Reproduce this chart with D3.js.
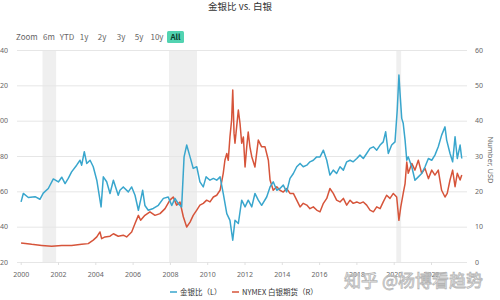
<!DOCTYPE html>
<html>
<head>
<meta charset="utf-8">
<script src="https://cdn.jsdelivr.net/npm/d3@7"></script>
<style>
  html, body { margin: 0; padding: 0; background: #fff; }
  svg { display: block; font-family: "Noto Sans CJK SC", "Noto Sans", sans-serif; }
</style>
</head>
<body>
<svg id="chart" width="500" height="300"></svg>
<script>
// gold / silver ratio (left axis)
const ratioDates = [2000.02, 2000.14, 2000.41, 2000.77, 2001.03, 2001.21, 2001.48, 2001.75, 2002.02, 2002.2, 2002.38, 2002.55, 2002.73, 2003.0, 2003.18, 2003.27, 2003.41, 2003.54, 2003.72, 2003.89, 2004.08, 2004.31, 2004.43, 2004.61, 2004.79, 2004.97, 2005.23, 2005.32, 2005.5, 2005.77, 2005.95, 2006.13, 2006.31, 2006.43, 2006.54, 2006.66, 2006.84, 2007.11, 2007.38, 2007.65, 2007.91, 2008.1, 2008.27, 2008.45, 2008.63, 2008.76, 2008.9, 2009.08, 2009.25, 2009.44, 2009.61, 2009.79, 2009.94, 2010.15, 2010.33, 2010.51, 2010.69, 2010.86, 2011.05, 2011.22, 2011.37, 2011.49, 2011.67, 2011.85, 2012.03, 2012.2, 2012.39, 2012.56, 2012.74, 2012.92, 2013.19, 2013.37, 2013.54, 2013.73, 2013.9, 2014.08, 2014.26, 2014.44, 2014.62, 2014.8, 2014.98, 2015.15, 2015.34, 2015.51, 2015.69, 2015.87, 2016.05, 2016.23, 2016.41, 2016.58, 2016.76, 2016.94, 2017.12, 2017.3, 2017.48, 2017.66, 2017.83, 2018.02, 2018.19, 2018.37, 2018.55, 2018.73, 2018.91, 2019.09, 2019.27, 2019.44, 2019.57, 2019.71, 2019.89, 2020.07, 2020.19, 2020.28, 2020.34, 2020.43, 2020.51, 2020.61, 2020.7, 2020.78, 2020.97, 2021.14, 2021.32, 2021.5, 2021.68, 2021.86, 2022.04, 2022.21, 2022.39, 2022.57, 2022.75, 2022.84, 2023.02, 2023.16, 2023.29, 2023.41, 2023.56, 2023.65];
const ratioValues = [54, 58.8, 56.5, 57, 55.5, 59, 61.6, 67, 65.3, 68, 64.4, 67.3, 71, 74.8, 77.6, 74.8, 82.4, 75.8, 77.6, 73.9, 66.3, 51.2, 68.2, 65.4, 58.8, 66.3, 57.8, 60.6, 62.5, 59.7, 62.5, 57.8, 49.3, 55, 60.6, 52, 49.3, 50.3, 52.1, 56, 56.8, 52, 56, 53, 51.2, 79.5, 86.2, 79.5, 73, 73.9, 65.4, 62.5, 68.2, 66.3, 67.3, 66.3, 68.2, 58.8, 47.4, 43.6, 32.3, 43.6, 41.8, 55, 51.2, 55, 51.2, 58.8, 55, 52.1, 56.8, 62.5, 65.4, 60.6, 61.6, 63.5, 59.7, 67.3, 70.1, 73.9, 75.8, 73.9, 74.8, 76.7, 77.6, 79.5, 79.5, 83.3, 77.6, 69.2, 72, 70.1, 73.9, 72, 76.7, 77.6, 76.7, 78.6, 80.5, 78.6, 81.4, 84.3, 85.2, 83.3, 86.2, 88, 93.7, 81.4, 86.2, 88, 106, 125.8, 115.5, 101.3, 98.5, 89, 77.6, 79.5, 73.9, 66.3, 68.2, 70.1, 73.9, 78.6, 77.6, 80.5, 85.2, 91.8, 96.5, 89, 81.4, 76.7, 90.9, 78.6, 86.2, 78.6];

// NYMEX silver futures, USD (right axis)
const silverDates = [2000.02, 2000.59, 2001.13, 2001.66, 2002.2, 2002.73, 2003.27, 2003.62, 2003.89, 2004.08, 2004.25, 2004.34, 2004.52, 2004.79, 2004.97, 2005.23, 2005.5, 2005.68, 2005.95, 2006.13, 2006.31, 2006.43, 2006.66, 2006.93, 2007.2, 2007.47, 2007.74, 2008.0, 2008.18, 2008.36, 2008.54, 2008.72, 2008.9, 2009.08, 2009.25, 2009.44, 2009.61, 2009.79, 2009.97, 2010.15, 2010.33, 2010.51, 2010.69, 2010.86, 2010.95, 2011.05, 2011.13, 2011.22, 2011.31, 2011.37, 2011.44, 2011.49, 2011.58, 2011.67, 2011.76, 2011.85, 2011.94, 2012.03, 2012.12, 2012.2, 2012.29, 2012.39, 2012.56, 2012.74, 2012.92, 2013.1, 2013.28, 2013.37, 2013.54, 2013.73, 2013.9, 2014.08, 2014.26, 2014.44, 2014.62, 2014.8, 2014.98, 2015.15, 2015.34, 2015.51, 2015.69, 2015.87, 2016.05, 2016.23, 2016.41, 2016.58, 2016.76, 2016.94, 2017.12, 2017.3, 2017.48, 2017.66, 2017.83, 2018.02, 2018.19, 2018.37, 2018.55, 2018.73, 2018.91, 2019.09, 2019.27, 2019.44, 2019.62, 2019.8, 2019.98, 2020.16, 2020.28, 2020.38, 2020.51, 2020.61, 2020.7, 2020.78, 2020.97, 2021.14, 2021.32, 2021.5, 2021.68, 2021.86, 2022.04, 2022.21, 2022.39, 2022.57, 2022.75, 2022.87, 2023.02, 2023.16, 2023.29, 2023.41, 2023.56, 2023.65];
const silverValues = [5.4, 5.0, 4.7, 4.45, 4.7, 4.7, 5.0, 5.2, 6.2, 7.1, 8.5, 6.6, 7.1, 7.3, 8.0, 7.3, 7.6, 7.1, 8.5, 10.9, 13.2, 11.8, 13.2, 14.2, 13.2, 13.7, 15.1, 17.5, 18.4, 16.1, 17.0, 12.8, 9.9, 11.3, 13.2, 14.7, 16.1, 16.6, 17.5, 17.0, 18.4, 18.9, 20.3, 25.1, 28.8, 30.7, 28.8, 35.4, 40.2, 48.7, 36.4, 33.6, 38.3, 43, 39.2, 33.6, 35.4, 26.9, 32.6, 36.8, 32.6, 29.8, 26.9, 34.5, 32.6, 32.6, 28.8, 23.2, 20.3, 21.3, 20.3, 19.8, 20.8, 19.4, 19.4, 17.5, 15.6, 16.6, 16.1, 15.1, 15.6, 14.7, 14.2, 16.6, 18, 20.8, 19.4, 17.5, 17.0, 18.0, 16.1, 17.5, 16.6, 17, 16.6, 17, 16.1, 14.7, 14.2, 15.6, 15.1, 17, 18.9, 18.0, 19.4, 18.4, 11.8, 15.6, 19.4, 22.2, 28.3, 25.1, 27.9, 26, 28.8, 25.1, 26.5, 23.6, 26, 24.6, 26, 20.3, 18.4, 19.4, 23.2, 26, 21.3, 25.1, 23.2, 24.6];

// US recessions (shaded)
const recessionStart = [2001.17, 2007.95, 2020.14];
const recessionEnd = [2001.9, 2009.45, 2020.4];

const leftTicks = [20, 40, 60, 80, 100, 120, 140];
const rightTicks = [0, 10, 20, 30, 40, 50, 60];
const yearTicks = d3.range(2000, 2023, 2);
const rangeButtons = ["6m", "YTD", "1y", "2y", "3y", "5y", "10y", "All"];
const seriesNames = ["金银比（L）", "NYMEX 白银期货（R）"];
const seriesColors = ["#39a6cd", "#d6543a"];

const svg = d3.select("#chart");
const plotLeft = 17, plotRight = 467, plotTop = 50, plotBottom = 262;

const x = d3.scaleLinear().domain([2000, 2024]).range([20.7, 468.3]);
const yLeft = d3.scaleLinear().domain([20, 140]).range([plotBottom, plotTop]);
const yRight = d3.scaleLinear().domain([0, 60]).range([plotBottom, plotTop]);

// title
svg.append("text")
  .attr("x", 240).attr("y", 10)
  .attr("text-anchor", "middle")
  .attr("font-size", 9.5)
  .attr("fill", "#333")
  .text("金银比 vs. 白银");

// range selector
svg.append("text")
  .attr("x", 16).attr("y", 40)
  .attr("font-size", 8).attr("fill", "#666")
  .text("Zoom");
const btnX = [49, 67, 84, 102, 121, 139, 157, 175.5];
const btns = svg.append("g").selectAll("g")
  .data(rangeButtons)
  .join("g")
  .attr("transform", (d, i) => `translate(${btnX[i]},0)`);
btns.filter(d => d === "All").append("rect")
  .attr("x", -8.5).attr("y", 31).attr("width", 17).attr("height", 12)
  .attr("rx", 1.5).attr("fill", "#52d3b1");
btns.append("text")
  .attr("y", 40)
  .attr("text-anchor", "middle")
  .attr("font-size", 8)
  .attr("font-weight", d => d === "All" ? "bold" : null)
  .attr("fill", d => d === "All" ? "#0b3d2c" : "#666")
  .text(d => d);

// recession bands
svg.append("g").selectAll("rect")
  .data(recessionStart)
  .join("rect")
  .attr("x", (d, i) => x(d))
  .attr("width", (d, i) => x(recessionEnd[i]) - x(d))
  .attr("y", plotTop)
  .attr("height", plotBottom - plotTop)
  .attr("fill", "#efefef");

// grid + left axis
const gridG = svg.append("g")
  .attr("transform", `translate(${plotLeft},0)`)
  .call(d3.axisLeft(yLeft).tickValues(leftTicks).tickSize(-(plotRight - plotLeft)).tickPadding(9));
gridG.select(".domain").remove();
gridG.selectAll(".tick line").attr("stroke", "#e6e6e6").attr("stroke-width", 1);
gridG.selectAll(".tick text").attr("fill", "#666").attr("font-size", 7)
  .attr("font-family", "'Noto Sans', sans-serif");

// right axis
const rightG = svg.append("g")
  .attr("transform", `translate(${plotRight},0)`)
  .call(d3.axisRight(yRight).tickValues(rightTicks).tickSize(0).tickPadding(8));
rightG.select(".domain").remove();
rightG.selectAll(".tick text").attr("fill", "#666").attr("font-size", 7)
  .attr("font-family", "'Noto Sans', sans-serif");

svg.append("text")
  .attr("transform", "translate(488,160) rotate(90)")
  .attr("text-anchor", "middle")
  .attr("font-size", 7.5)
  .attr("fill", "#666")
  .attr("font-family", "'Noto Sans', sans-serif")
  .text("Number, USD");

// x axis
const xG = svg.append("g")
  .attr("transform", `translate(0,${plotBottom})`)
  .call(d3.axisBottom(x).tickValues(yearTicks).tickFormat(d3.format("d")).tickSize(3).tickPadding(7));
xG.select(".domain").remove();
xG.selectAll(".tick line").attr("stroke", "#e0e0e0");
xG.selectAll(".tick text").attr("fill", "#666").attr("font-size", 7)
  .attr("font-family", "'Noto Sans', sans-serif");

// lines
const ratioLine = d3.line()
  .x((d, i) => x(ratioDates[i]))
  .y(d => yLeft(d));
const silverLine = d3.line()
  .x((d, i) => x(silverDates[i]))
  .y(d => yRight(d));

svg.append("path")
  .datum(silverValues)
  .attr("d", silverLine)
  .attr("fill", "none")
  .attr("stroke", seriesColors[1])
  .attr("stroke-width", 1.5)
  .attr("stroke-linejoin", "round");

svg.append("path")
  .datum(ratioValues)
  .attr("d", ratioLine)
  .attr("fill", "none")
  .attr("stroke", seriesColors[0])
  .attr("stroke-width", 1.5)
  .attr("stroke-linejoin", "round");

// legend
const legend = svg.append("g").attr("transform", "translate(170,295)");
const legX = [0, 62];
const legItems = legend.selectAll("g")
  .data(seriesNames)
  .join("g")
  .attr("transform", (d, i) => `translate(${legX[i]},0)`);
legItems.append("line")
  .attr("x1", 0).attr("x2", 7)
  .attr("y1", -3).attr("y2", -3)
  .attr("stroke", (d, i) => seriesColors[i])
  .attr("stroke-width", 1.5);
legItems.append("text")
  .attr("x", 10)
  .attr("font-size", 7.5)
  .attr("fill", "#333")
  .text(d => d);

// watermark
svg.append("text")
  .attr("x", 483).attr("y", 287)
  .attr("text-anchor", "end")
  .attr("font-size", 17)
  .attr("fill", "#fff")
  .attr("fill-opacity", 0.6)
  .attr("stroke", "#b5b5b5")
  .attr("stroke-width", 0.8)
  .text("知乎 @杨博看趋势");
</script>
</body>
</html>
